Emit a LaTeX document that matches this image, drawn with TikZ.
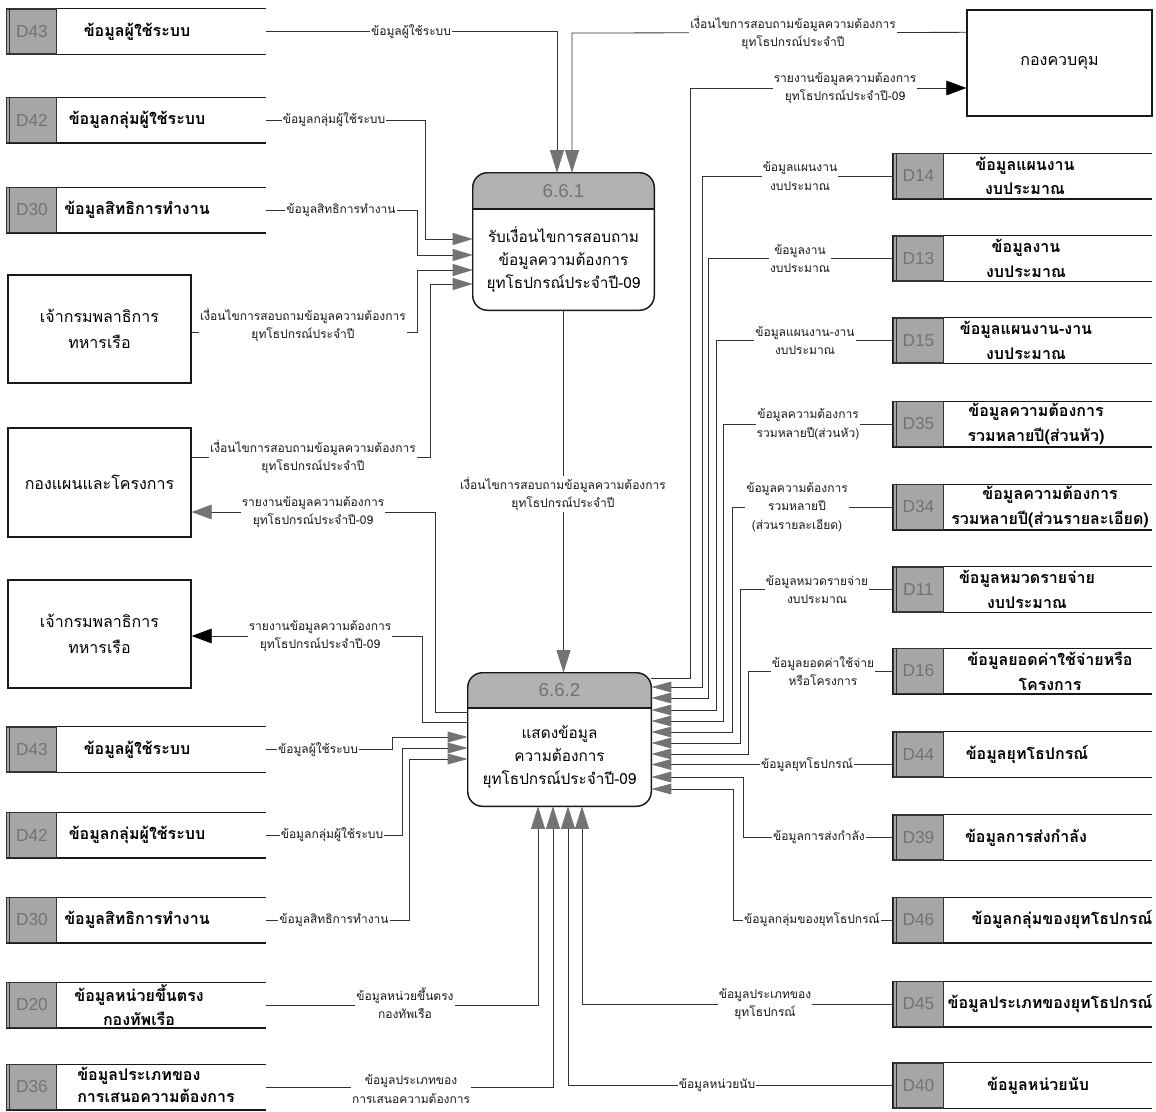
\documentclass[tikz,border=0pt]{standalone}
\usepackage{fontspec}
\setmainfont[Script=Thai]{Loma}
\newfontfamily\idfont{Liberation Sans}
\usetikzlibrary{arrows.meta,calc}
\newcommand\mystore[6]{%
  \node[stbox,minimum width=194pt] (#1) at (#2,#3) {};
  \draw[stline] (#1.north east) -- (#1.north west) -- (#1.south west) -- (#1.south east);
  \node[idbox,anchor=west] (#1id) at (#1.west) {#4};
  \draw[black!80,line width=0.5pt] ([xshift=2.5pt]#1.north west) -- ([xshift=2.5pt]#1.south west);
  \node[sttext] (#1txt) at (#5,#3) {#6};
}
\newcommand\myproc[6]{% name, cx, cy, header bottom y, id, text
  \node[procshape] (#1) at (#2,#3) {};
  \begin{scope}
    \clip[rounded corners=11pt] (#1.south west) rectangle (#1.north east);
    \fill[black!30] (#1.north west) rectangle (#1.east |- 0,#4);
  \end{scope}
  \draw[black!90,line width=1.1pt,rounded corners=11pt] (#1.south west) rectangle (#1.north east);
  \draw[black!90,line width=0.9pt] (#1.west |- 0,#4) -- (#1.east |- 0,#4);
  \node[hdtext] (#1id) at ($(#1.north)!0.5!(#1.north |- 0,#4)$) {#5};
  \node[ptext] (#1txt) at ($(#1.south)!0.5!(#1.south |- 0,#4)$) {#6};
}
\begin{document}
\begin{tikzpicture}[x=0.75pt,y=-0.75pt,
  ln/.style={draw=black!80,line width=0.6pt},
  lab/.style={fill=white,inner sep=0.8pt,align=center,text=black!90,font=\fontsize{9}{14}\selectfont},
  ent/.style={draw=black!90,line width=1pt,minimum width=137.25pt,minimum height=81pt,align=center,font=\fontsize{12}{19.5}\selectfont},
  stbox/.style={inner sep=0,minimum height=33.75pt},
  stline/.style={draw=black!90,line width=1.1pt},
  idbox/.style={fill=black!35,draw=black!80,line width=0.8pt,inner sep=0,minimum width=37.5pt,minimum height=33.75pt,text=black!55,font=\idfont\fontsize{13}{13}\selectfont},
  sttext/.style={align=center,font=\bfseries\fontsize{12}{18.5}\selectfont,inner sep=0},
  ptext/.style={align=center,font=\fontsize{11.5}{17}\selectfont},
  hdtext/.style={text=black!55,font=\idfont\fontsize{14}{14}\selectfont},
  tipS/.style={-{Triangle[length=15pt,width=8pt,color=black!55]}},
  tipM/.style={-{Triangle[length=15pt,width=9pt,color=black!55]}},
  tipL/.style={-{Triangle[length=17pt,width=10.5pt,color=black!55]}},
  tipK/.style={-{Triangle[length=15pt,width=11pt,color=black]}},
  tipG/.style={-{Triangle[length=15pt,width=11pt,color=black!55]}},
]
\useasboundingbox[fill=white] (0,0) rectangle (1156,1111);

% ---------- external entities ----------
\node[ent] (ent1) at (99.5,329) {เจ้ากรมพลาธิการ\\ทหารเรือ};
\node[ent,minimum height=81.75pt] (ent2) at (99.5,482.5) {กองแผนและโครงการ};
\node[ent] (ent3) at (99.5,634) {เจ้ากรมพลาธิการ\\ทหารเรือ};
\node[ent,minimum width=138.75pt,minimum height=79.5pt] (ctrl) at (1059.5,63) {กองควบคุม};

% ---------- processes ----------
\tikzset{procshape/.style={inner sep=0,minimum width=135.75pt,minimum height=102.75pt}}
\myproc{p1}{563.5}{241.5}{209}{6.6.1}{รับเงื่อนไขการสอบถาม\\ข้อมูลความต้องการ\\ยุทโธปกรณ์ประจำปี-09}
\tikzset{procshape/.style={inner sep=0,minimum width=137.25pt,minimum height=99.75pt}}
\myproc{p2}{559.5}{739.5}{708}{6.6.2}{แสดงข้อมูล\\ความต้องการ\\ยุทโธปกรณ์ประจำปี-09}

% ---------- data stores, left ----------
\mystore{sL43}{136}{31.5}{D43}{137}{ข้อมูลผู้ใช้ระบบ}
\mystore{sL42}{136}{120}{D42}{137}{ข้อมูลกลุ่มผู้ใช้ระบบ}
\mystore{sL30}{136}{210}{D30}{137}{ข้อมูลสิทธิการทำงาน}
\mystore{sLb43}{136}{749.5}{D43}{137}{ข้อมูลผู้ใช้ระบบ}
\mystore{sLb42}{136}{835}{D42}{137}{ข้อมูลกลุ่มผู้ใช้ระบบ}
\mystore{sLb30}{136}{920}{D30}{137}{ข้อมูลสิทธิการทำงาน}
\mystore{sL20}{136}{1005}{D20}{139}{ข้อมูลหน่วยขึ้นตรง\\กองทัพเรือ}
\mystore{sL36}{136}{1087}{D36}{155}{}
\node[align=left,anchor=west,inner sep=0,font=\bfseries\fontsize{12}{16}\selectfont] (sL36txt) at (77,1085) {ข้อมูลประเภทของ\\การเสนอความต้องการ};

% ---------- data stores, right ----------
\mystore{sR14}{1022.5}{176}{D14}{1025}{ข้อมูลแผนงาน\\งบประมาณ}
\mystore{sR13}{1022.5}{258.5}{D13}{1026}{ข้อมูลงาน\\งบประมาณ}
\mystore{sR15}{1022.5}{340.5}{D15}{1026}{ข้อมูลแผนงาน-งาน\\งบประมาณ}
\mystore{sR35}{1022.5}{424}{D35}{1036}{ข้อมูลความต้องการ\\รวมหลายปี(ส่วนหัว)}
\mystore{sR34}{1022.5}{507}{D34}{1050}{ข้อมูลความต้องการ\\รวมหลายปี(ส่วนรายละเอียด)}
\mystore{sR11}{1022.5}{589.5}{D11}{1027}{ข้อมูลหมวดรายจ่าย\\งบประมาณ}
\mystore{sR16}{1022.5}{671}{D16}{1050}{ข้อมูลยอดค่าใช้จ่ายหรือ\\โครงการ}
\mystore{sR44}{1022.5}{754.5}{D44}{1027}{ข้อมูลยุทโธปกรณ์}
\mystore{sR39}{1022.5}{837.5}{D39}{1026}{ข้อมูลการส่งกำลัง}
\mystore{sR46}{1022.5}{920}{D46}{1062}{ข้อมูลกลุ่มของยุทโธปกรณ์}
\mystore{sR45}{1022.5}{1004}{D45}{1050}{ข้อมูลประเภทของยุทโธปกรณ์}
\mystore{sR40}{1022.5}{1085.5}{D40}{1038}{ข้อมูลหน่วยนับ}

% ---------- connectors into 6.6.1 ----------
\draw[ln,tipL] (sL43.east) -- (557,31.5) -- (p1.north -| 557,0);
\draw[ln,tipL] ($(ctrl.north west)+(0,23)$) -- (572,33) -- (p1.north -| 572,0);
\draw[ln,tipM] (sL42.east) -| (425,239) -- (p1.west |- 0,239);
\draw[ln,tipM] (sL30.east) -| (417,255) -- (p1.west |- 0,255);
\draw[ln,tipM] ($(ent1.north east)+(0,58)$) -| (417,270) -- (p1.west |- 0,270);
\draw[ln,tipM] (ent2.east |- 0,457) -| (430,284) -- (p1.west |- 0,284);

% ---------- 6.6.1 to 6.6.2 ----------
\draw[ln,tipL] (p1.south) -- (p1.south |- p2.north);

% ---------- outputs of 6.6.2 ----------
\draw[ln,tipK] (p2.east |- 0,678) -- (690,678) -- (690,88) -- (ctrl.west |- 0,88);
\draw[ln,tipG] (p2.west |- 0,712) -| (435,512) -- (ent2.east |- 0,512);
\draw[ln,tipK] (p2.west |- 0,722) -| (422,636) -- (ent3.east |- 0,636);

% ---------- left inputs of 6.6.2 ----------
\draw[ln,tipS] (sLb43.east) -| (392,737) -- (p2.west |- 0,737);
\draw[ln,tipS] (sLb42.east) -| (402,748) -- (p2.west |- 0,748);
\draw[ln,tipS] (sLb30.east) -| (409,759) -- (p2.west |- 0,759);

% ---------- bottom inputs of 6.6.2 ----------
\draw[ln,tipL] (sL20.east) -| (p2.south -| 538,0);
\draw[ln,tipL] (sL36.east) -| (p2.south -| 553,0);
\draw[ln,tipL] (sR40.west) -| (p2.south -| 568,0);
\draw[ln,tipL] (sR45.west) -| (p2.south -| 582,0);

% ---------- right inputs of 6.6.2 ----------
\draw[ln,tipS] (sR14.west) -| (702,687) -- (p2.east |- 0,687);
\draw[ln,tipS] (sR13.west) -| (708,698) -- (p2.east |- 0,698);
\draw[ln,tipS] (sR15.west) -| (716,710) -- (p2.east |- 0,710);
\draw[ln,tipS] (sR35.west) -| (723,721) -- (p2.east |- 0,721);
\draw[ln,tipS] (sR34.west) -| (732,732) -- (p2.east |- 0,732);
\draw[ln,tipS] (sR11.west) -| (740,743) -- (p2.east |- 0,743);
\draw[ln,tipS] (sR16.west) -| (748,754) -- (p2.east |- 0,754);
\draw[ln,tipS] ($(sR44.west)+(0,10)$) -- (p2.east |- 0,764.5);
\draw[ln,tipS] (sR39.west) -| (743,777) -- (p2.east |- 0,777);
\draw[ln,tipS] (sR46.west) -| (733,789) -- (p2.east |- 0,789);

% ---------- flow labels ----------
\node[lab] (lb1) at (411,31.5) {ข้อมูลผู้ใช้ระบบ};
\node[lab] (lb2) at (793,33) {เงื่อนไขการสอบถามข้อมูลความต้องการ\\ยุทโธปกรณ์ประจำปี};
\node[lab] (lb3) at (845,88) {รายงานข้อมูลความต้องการ\\ยุทโธปกรณ์ประจำปี-09};
\node[lab] (lb4) at (334,120) {ข้อมูลกลุ่มผู้ใช้ระบบ};
\node[lab] (lb5) at (341,210) {ข้อมูลสิทธิการทำงาน};
\node[lab] (lb6) at (303,325) {เงื่อนไขการสอบถามข้อมูลความต้องการ\\ยุทโธปกรณ์ประจำปี};
\node[lab] (lb7) at (313,457) {เงื่อนไขการสอบถามข้อมูลความต้องการ\\ยุทโธปกรณ์ประจำปี};
\node[lab] (lb8) at (313,512) {รายงานข้อมูลความต้องการ\\ยุทโธปกรณ์ประจำปี-09};
\node[lab] (lb9) at (320,636) {รายงานข้อมูลความต้องการ\\ยุทโธปกรณ์ประจำปี-09};
\node[lab] (lb10) at (563,494) {เงื่อนไขการสอบถามข้อมูลความต้องการ\\ยุทโธปกรณ์ประจำปี};
\node[lab] (lb11) at (318,749.5) {ข้อมูลผู้ใช้ระบบ};
\node[lab] (lb12) at (332,835) {ข้อมูลกลุ่มผู้ใช้ระบบ};
\node[lab] (lb13) at (334,920) {ข้อมูลสิทธิการทำงาน};
\node[lab] (lb14) at (405,1003) {ข้อมูลหน่วยขึ้นตรง\\กองทัพเรือ};
\node[lab] (lb15) at (411,1089) {ข้อมูลประเภทของ\\การเสนอความต้องการ};
\node[lab] (lb16) at (717,1085.5) {ข้อมูลหน่วยนับ};
\node[lab] (lb17) at (765,1004) {ข้อมูลประเภทของ\\ยุทโธปกรณ์};
\node[lab] (lb18) at (800,176) {ข้อมูลแผนงาน\\งบประมาณ};
\node[lab] (lb19) at (800,258.5) {ข้อมูลงาน\\งบประมาณ};
\node[lab] (lb20) at (805,340.5) {ข้อมูลแผนงาน-งาน\\งบประมาณ};
\node[lab] (lb21) at (808,424) {ข้อมูลความต้องการ\\รวมหลายปี(ส่วนหัว)};
\node[lab] (lb22) at (797,507) {ข้อมูลความต้องการ\\รวมหลายปี\\(ส่วนรายละเอียด)};
\node[lab] (lb23) at (817,589.5) {ข้อมูลหมวดรายจ่าย\\งบประมาณ};
\node[lab] (lb24) at (823,671) {ข้อมูลยอดค่าใช้จ่าย\\หรือโครงการ};
\node[lab] (lb25) at (807,764.5) {ข้อมูลยุทโธปกรณ์};
\node[lab] (lb26) at (819,837.5) {ข้อมูลการส่งกำลัง};
\node[lab] (lb27) at (812,920) {ข้อมูลกลุ่มของยุทโธปกรณ์};
\end{tikzpicture}
\end{document}
